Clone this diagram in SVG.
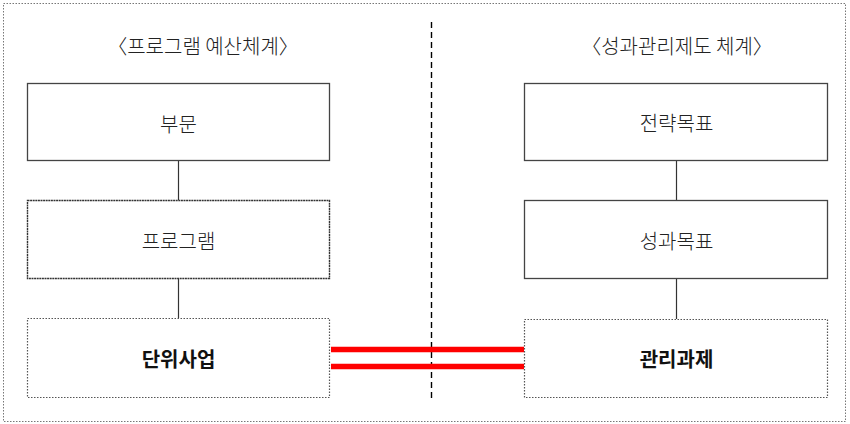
<svg xmlns="http://www.w3.org/2000/svg" width="850" height="424" viewBox="0 0 850 424">
<style>
.box{fill:#fff;stroke:#444;stroke-width:1.3}
.dot{fill:#fff;stroke:#555;stroke-width:1.2;stroke-dasharray:1.5 1.5}
.dense{fill:#fff;stroke:#333;stroke-width:1.4;stroke-dasharray:2 0.6}
.t{font-family:"Noto Sans CJK KR","Noto Sans",sans-serif;font-size:20px;fill:#222;text-anchor:middle;font-weight:300}
.b{font-family:"Noto Sans CJK KR","Noto Sans",sans-serif;font-size:20px;fill:#111;text-anchor:middle;font-weight:700}
.c{stroke:#333;stroke-width:1.2;fill:none}
.red{stroke:#ff0000;stroke-width:5.5;fill:none}
</style>
<rect x="3.5" y="3.5" width="842" height="418" fill="#fff" stroke="#777" stroke-width="1" stroke-dasharray="1.5 1.5"/>
<text class="t" x="203" y="54" font-size="21.3">〈프로그램 예산체계〉</text>
<text class="t" x="677" y="54" font-size="21.3">〈성과관리제도 체계〉</text>
<g id="connectors">
<line class="c" x1="178.5" y1="160" x2="178.5" y2="200"/>
<line class="c" x1="178.5" y1="279" x2="178.5" y2="318"/>
<line class="c" x1="676.5" y1="161" x2="676.5" y2="200"/>
<line class="c" x1="676.5" y1="279" x2="676.5" y2="319"/>
<line x1="431.5" y1="22" x2="431.5" y2="398" stroke="#000" stroke-width="1.4" stroke-dasharray="6 4"/>
<line class="red" x1="331" y1="349.5" x2="524" y2="349.5"/>
<line class="red" x1="331" y1="366.5" x2="524" y2="366.5"/>
</g>
<g id="n-bumun"><rect class="box" x="27.5" y="83.5" width="302" height="77"/><text class="t" x="178.5" y="132">부문</text></g>
<g id="n-program"><rect class="dense" x="27.5" y="200.5" width="302" height="78"/><text class="t" x="178.5" y="249">프로그램</text></g>
<g id="n-danwi"><rect class="dot" x="27.5" y="318.5" width="302" height="79"/><text class="b" x="178.5" y="367">단위사업</text></g>
<g id="n-jeollyak"><rect class="box" x="524.5" y="83.5" width="303" height="77"/><text class="t" x="676.5" y="131">전략목표</text></g>
<g id="n-seonggwa"><rect class="box" x="524.5" y="200.5" width="303" height="78"/><text class="t" x="676.5" y="249">성과목표</text></g>
<g id="n-gwanri"><rect class="dot" x="524.5" y="319.5" width="303" height="78"/><text class="b" x="676.5" y="367">관리과제</text></g>
</svg>
